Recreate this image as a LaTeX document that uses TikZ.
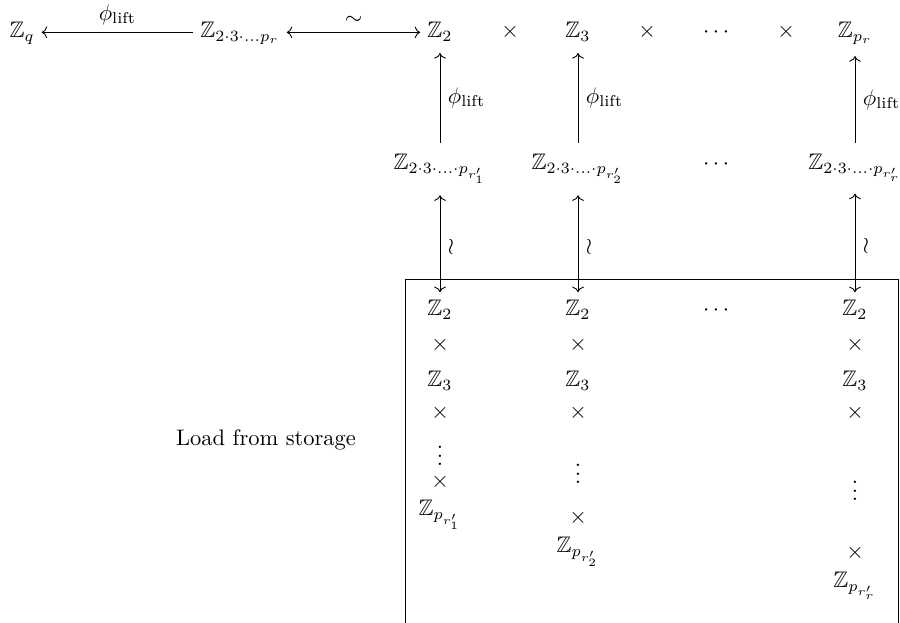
\documentclass[tikz,border=0pt]{standalone}
\usepackage{amsmath}
\usepackage{amssymb}
\usetikzlibrary{arrows.meta}

\tikzset{
    cell/.style={anchor=base, inner xsep=3pt, inner ysep=5pt},
    item/.style={anchor=base, inner xsep=3pt, inner ysep=1pt},
    map/.style={-{To}},
    iso/.style={{To}-{To}, shorten >=2.5pt},
}

\begin{document}
\begin{tikzpicture}[x=0.445pt, y=-0.445pt]
    \useasboundingbox (0,0) rectangle (900,623);
    % top row
    \node[cell] (zq) at (22,38) {$\mathbb{Z}_q$};
    \node[cell] (zall) at (240,38) {$\mathbb{Z}_{2\cdot 3\cdot\ldots p_r}$};
    \node[cell] (t1) at (440,38) {$\mathbb{Z}_2$};
    \node[cell] (x1) at (510,38) {$\times$};
    \node[cell] (t2) at (578,38) {$\mathbb{Z}_3$};
    \node[cell] (x2) at (647,38) {$\times$};
    \node[cell] (tdots) at (718,38) {$\cdots$};
    \node[cell] (x3) at (786,38) {$\times$};
    \node[cell] (t3) at (855,38) {$\mathbb{Z}_{p_r}$};
    \draw[map] ([yshift=2.5pt]zall.base west) -- ([yshift=2.5pt]zq.base east)
        node[midway, above] {$\phi_{\text{lift}}$};
    \draw[iso, shorten >=0pt] ([yshift=2.5pt]zall.base east) -- ([yshift=2.5pt]t1.base west)
        node[midway, above] {$\sim$};
    % middle row
    \node[cell] (m1) at (440,170) {$\mathbb{Z}_{2\cdot 3\cdot\ldots\cdot p_{r'_1}}$};
    \node[cell] (m2) at (578,170) {$\mathbb{Z}_{2\cdot 3\cdot\ldots\cdot p_{r'_2}}$};
    \node[cell] (mdots) at (718,170) {$\cdots$};
    \node[cell] (m3) at (855,170) {$\mathbb{Z}_{2\cdot 3\cdot\ldots\cdot p_{r'_r}}$};
    \draw[map] (m1) -- (t1) node[midway, right] {$\phi_{\text{lift}}$};
    \draw[map] (m2) -- (t2) node[midway, right] {$\phi_{\text{lift}}$};
    \draw[map] (m3) -- (t3) node[midway, right] {$\phi_{\text{lift}}$};
    % storage box
    \draw (405,279) rectangle (898,700);
    \node (load) at (266,440) {Load from storage};
    \node[item] (bdots) at (718,316) {$\cdots$};
    \foreach \c/\x/\d/\m/\z/\s in {1/440/466/488/516/1, 2/578/484/524/553/2, 3/855/501/559/588/r} {
        \node[item] (b\c-1) at (\x,316) {$\mathbb{Z}_2$};
        \node[item] (b\c-2) at (\x,351) {$\times$};
        \node[item] (b\c-3) at (\x,387) {$\mathbb{Z}_3$};
        \node[item] (b\c-4) at (\x,419) {$\times$};
        \node[item] (b\c-5) at (\x,\d) {$\vdots$};
        \node[item] (b\c-6) at (\x,\m) {$\times$};
        \node[item] (b\c-7) at (\x,\z) {$\mathbb{Z}_{p_{r'_{\s}}}$};
    }
    \draw[iso] (m1) -- (b1-1) node[midway, right] {$\wr$};
    \draw[iso] (m2) -- (b2-1) node[midway, right] {$\wr$};
    \draw[iso] (m3) -- (b3-1) node[midway, right] {$\wr$};
\end{tikzpicture}
\end{document}
